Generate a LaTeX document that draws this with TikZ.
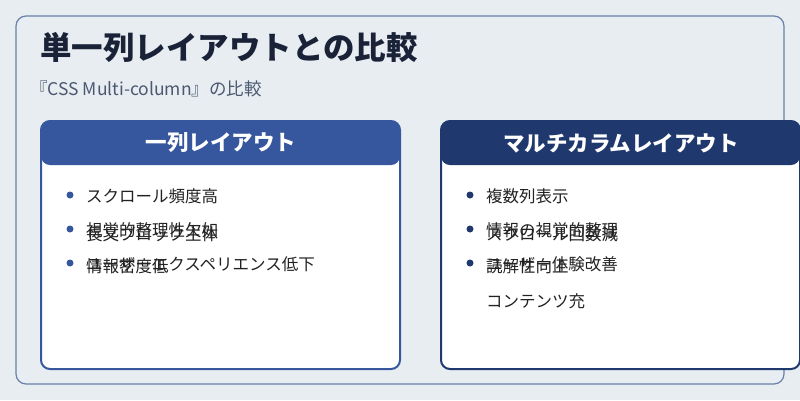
\documentclass[tikz,border=0pt]{standalone}
\usepackage{fontspec}
\setmainfont{Noto Sans CJK JP}
\usetikzlibrary{positioning}
\definecolor{pagebg}{HTML}{E8EDF2}
\definecolor{frameline}{HTML}{6A80AA}
\definecolor{titleink}{HTML}{1A2238}
\definecolor{subink}{HTML}{4A5870}
\definecolor{leftblue}{HTML}{36579E}
\definecolor{rightblue}{HTML}{1F386E}
\definecolor{itemink}{HTML}{222222}
\tikzset{
  itemtext/.style={anchor=west, font=\fontsize{16.5}{18}\selectfont, text=itemink, inner sep=0pt},
  cardhead/.style={font=\bfseries\fontsize{21.5}{24}\selectfont, text=white}
}
\begin{document}
\begin{tikzpicture}[x=1pt, y=-1pt]
    \path [use as bounding box, fill=pagebg] (0, 0) rectangle (800, 400);

    \newcommand{\acard}[4]{
      % body and header of one card
      \draw[#4, line width=2pt, fill=white, rounded corners=9pt]
        (#1, 121) rectangle (#1 + 359, 369);
      \fill[#4, rounded corners=9pt] (#1, 121) -- (#1 + 359, 121) -- (#1 + 359, 165)
        -- (#1, 165) -- cycle;
      \node[cardhead] (#2) at (#1 + 180, 143) {#3};
    }

    \draw[frameline, line width=1.2pt, rounded corners=10pt] (16, 16) rectangle (784, 384);
    \node[anchor=west, font=\bfseries\fontsize{31.5}{34}\selectfont, text=titleink, inner sep=0pt]
      (title) at (40, 47) {単一列レイアウトとの比較};
    \node[anchor=west, font=\fontsize{17.5}{20}\selectfont, text=subink, inner sep=0pt]
      (subtitle) at (30, 89) {『CSS Multi-column』の比較};

    \acard{41}{lefthead}{一列レイアウト}{leftblue}
    \acard{441}{righthead}{マルチカラムレイアウト}{rightblue}

    \foreach \yy in {196, 230, 264} {
      \fill[leftblue] (70, \yy - 1) circle (3.5pt);
      \fill[rightblue] (470, \yy - 1) circle (3.5pt);
    }
    \node[itemtext] (l1) at (86, 196) {スクロール頻度高};
    \node[itemtext] (l2) at (86, 230) {視覚的整理性欠如};
    \node[itemtext] (l2b) at (86, 234) {長文ブロック主体};
    \node[itemtext] (l3) at (86, 266) {情報密度低};
    \node[itemtext] (l3b) at (86, 264) {ユーザーエクスペリエンス低下};
    \node[itemtext] (r1) at (486, 196) {複数列表示};
    \node[itemtext] (r2) at (486, 230) {情報の視覚的整理};
    \node[itemtext] (r2b) at (486, 234) {スクロール回数減};
    \node[itemtext] (r3) at (486, 266) {読解性向上};
    \node[itemtext] (r3b) at (486, 264) {ユーザー体験改善};
    \node[itemtext] (r4) at (486, 301) {コンテンツ充};
\end{tikzpicture}
\end{document}
